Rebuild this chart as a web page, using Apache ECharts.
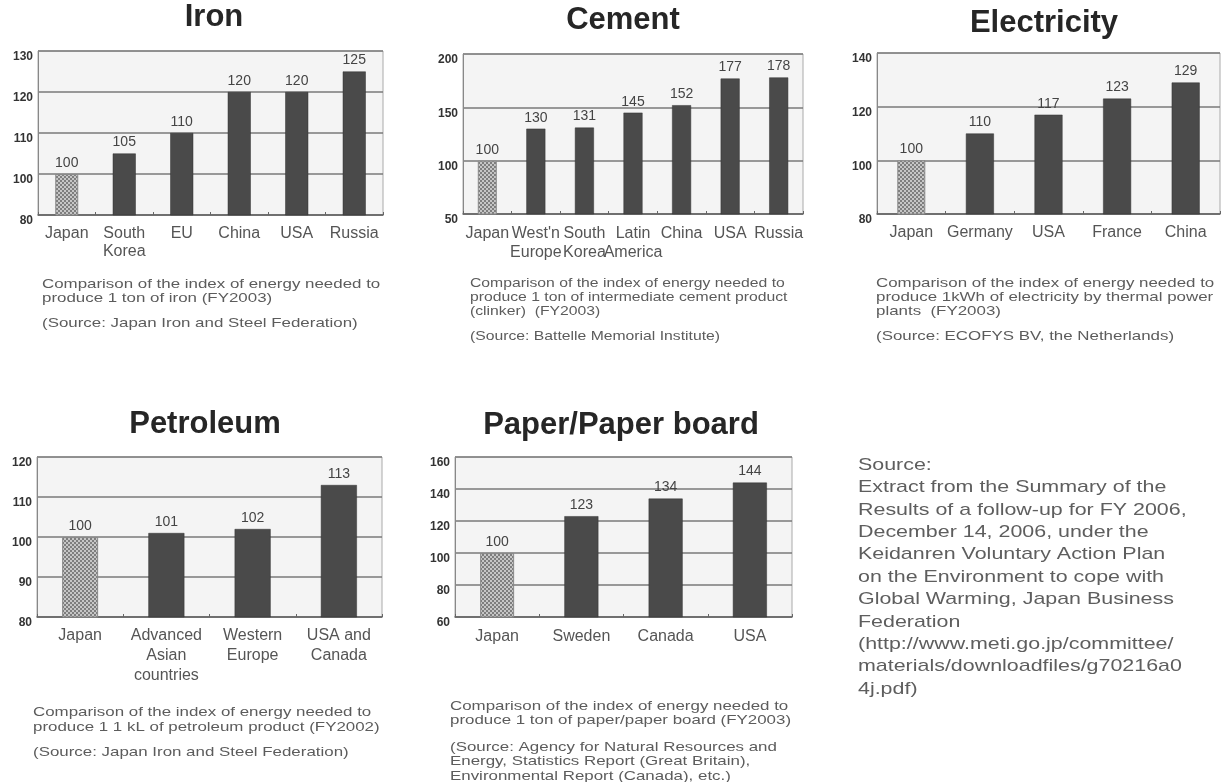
<!DOCTYPE html>
<html>
<head>
<meta charset="utf-8">
<script src="https://cdn.jsdelivr.net/npm/echarts@6.0.0/dist/echarts.min.js"></script>
<style>
html,body{margin:0;padding:0;background:#fff;}
#main{width:1226px;height:782px;}
</style>
</head>
<body>
<div id="main"></div>
<script>
// ---- data ----
const ironCats = ['Japan', 'South\nKorea', 'EU', 'China', 'USA', 'Russia'];
const ironVals = [100, 105, 110, 120, 120, 125];
const ironTicks = ['80', '100', '110', '120', '130'];   // broken axis: bottom tick labelled 80

const cementCats = ['Japan', "West'n\nEurope", 'South\nKorea', 'Latin\nAmerica', 'China', 'USA', 'Russia'];
const cementVals = [100, 130, 131, 145, 152, 177, 178];
const cementTicks = ['50', '100', '150', '200'];

const elecCats = ['Japan', 'Germany', 'USA', 'France', 'China'];
const elecVals = [100, 110, 117, 123, 129];
const elecTicks = ['80', '100', '120', '140'];

const petroCats = ['Japan', 'Advanced\nAsian\ncountries', 'Western\nEurope', 'USA and\nCanada'];
const petroVals = [100, 101, 102, 113];
const petroTicks = ['80', '90', '100', '110', '120'];

const paperCats = ['Japan', 'Sweden', 'Canada', 'USA'];
const paperVals = [100, 123, 134, 144];
const paperTicks = ['60', '80', '100', '120', '140', '160'];

const titles = ['Iron', 'Cement', 'Electricity', 'Petroleum', 'Paper/Paper board'];

// ---- styling / layout ----
const FONT = '"Liberation Sans", Arial, sans-serif';
const charts = [
  {cats: ironCats, vals: ironVals, ticks: ironTicks, yMin: 90, yStep: 10,
   grid: {left: 38, top: 51, width: 345, height: 164}, barWidth: 23, lh: 18, margin: 10},
  {cats: cementCats, vals: cementVals, ticks: cementTicks, yMin: 50, yStep: 50,
   grid: {left: 463, top: 54, width: 340, height: 160}, barWidth: 19, lh: 19, margin: 10},
  {cats: elecCats, vals: elecVals, ticks: elecTicks, yMin: 80, yStep: 20,
   grid: {left: 877, top: 53, width: 343, height: 161}, barWidth: 28, lh: 18, margin: 10},
  {cats: petroCats, vals: petroVals, ticks: petroTicks, yMin: 80, yStep: 10,
   grid: {left: 37, top: 457, width: 345, height: 160}, barWidth: 36, lh: 20, margin: 9},
  {cats: paperCats, vals: paperVals, ticks: paperTicks, yMin: 60, yStep: 20,
   grid: {left: 455, top: 457, width: 337, height: 160}, barWidth: 34, lh: 18, margin: 11}
];

// checkered pattern for Japan bars
const pc = document.createElement('canvas');
pc.width = 4; pc.height = 4;
const pctx = pc.getContext('2d');
pctx.fillStyle = '#c6c6c6'; pctx.fillRect(0, 0, 4, 4);
pctx.fillStyle = '#7e7e7e'; pctx.fillRect(0, 0, 2, 2); pctx.fillRect(2, 2, 2, 2);
const japanPattern = {image: pc, repeat: 'repeat'};

const grids = [], xAxes = [], yAxes = [], series = [];
charts.forEach((c, i) => {
  grids.push(Object.assign({show: true, backgroundColor: '#f4f4f4', borderColor: '#aaa', borderWidth: 1}, c.grid));
  xAxes.push({
    type: 'category', gridIndex: i, data: c.cats,
    axisLine: {show: true, lineStyle: {color: '#666', width: 1.5}},
    axisTick: {show: true, inside: true, length: 3, lineStyle: {color: '#666'}},
    axisLabel: {interval: 0, hideOverlap: false, fontFamily: FONT, fontSize: 16, color: '#555',
                lineHeight: c.lh, margin: c.margin}
  });
  const yMax = c.yMin + c.yStep * (c.ticks.length - 1);
  yAxes.push({
    type: 'value', gridIndex: i, min: c.yMin, max: yMax, interval: c.yStep,
    axisLine: {show: true, lineStyle: {color: '#888', width: 1}},
    axisTick: {show: false},
    splitLine: {show: true, lineStyle: {color: '#7a7a7a', width: 1.5}},
    axisLabel: {fontFamily: FONT, fontSize: 12, fontWeight: 'bold', color: '#333', margin: 5,
                verticalAlign: 'top',
                formatter: (v) => c.ticks[Math.round((v - c.yMin) / c.yStep)]}
  });
  series.push({
    type: 'bar', xAxisIndex: i, yAxisIndex: i, barWidth: c.barWidth,
    data: c.vals.map((v, k) => k === 0
      ? {value: v, itemStyle: {color: japanPattern, borderColor: '#8a8a8a', borderWidth: 1}}
      : {value: v}),
    itemStyle: {color: '#4a4a4a', borderColor: '#333', borderWidth: 0.5},
    label: {show: true, position: 'top', distance: 4, fontFamily: FONT, fontSize: 14, color: '#444'},
    animation: false
  });
});

// ---- texts ----
const titlePos = [[214, 17], [623, 20], [1044, 23], [205, 424], [621, 425]];
const graphics = [];
titles.forEach((t, i) => {
  graphics.push({type: 'text', x: titlePos[i][0], y: titlePos[i][1],
    style: {text: t, font: 'bold 31px ' + FONT, fill: '#262626', align: 'center', verticalAlign: 'middle'}});
});

function caption(x, y, text, sx, size, lh, color) {
  graphics.push({type: 'text', x: x, y: y, scaleX: sx,
    style: {text: text, font: size + 'px ' + FONT, fill: color, lineHeight: lh, align: 'left', verticalAlign: 'top'}});
}
const capFill = '#5c5c5c';
caption(42, 277, 'Comparison of the index of energy needed to\nproduce 1 ton of iron (FY2003)', 1.3, 13, 14.5, capFill);
caption(42, 316, '(Source: Japan Iron and Steel Federation)', 1.3, 13, 14.5, capFill);
caption(470, 276, 'Comparison of the index of energy needed to\nproduce 1 ton of intermediate cement product\n(clinker)  (FY2003)', 1.21, 13, 14, capFill);
caption(470, 329, '(Source: Battelle Memorial Institute)', 1.21, 13, 14, capFill);
caption(876, 276, 'Comparison of the index of energy needed to\nproduce 1kWh of electricity by thermal power\nplants  (FY2003)', 1.3, 13, 14, capFill);
caption(876, 329, '(Source: ECOFYS BV, the Netherlands)', 1.3, 13, 14, capFill);
caption(33, 705, 'Comparison of the index of energy needed to\nproduce 1 1 kL of petroleum product (FY2002)', 1.3, 13, 15, capFill);
caption(33, 745, '(Source: Japan Iron and Steel Federation)', 1.3, 13, 15, capFill);
caption(450, 699, 'Comparison of the index of energy needed to\nproduce 1 ton of paper/paper board (FY2003)', 1.3, 13, 14.5, capFill);
caption(450, 740, '(Source: Agency for Natural Resources and\nEnergy, Statistics Report (Great Britain),\nEnvironmental Report (Canada), etc.)', 1.3, 13, 14.5, capFill);
caption(858, 454, 'Source:\nExtract from the Summary of the\nResults of a follow-up for FY 2006,\nDecember 14, 2006, under the\nKeidanren Voluntary Action Plan\non the Environment to cope with\nGlobal Warming, Japan Business\nFederation\n(http://www.meti.go.jp/committee/\nmaterials/downloadfiles/g70216a0\n4j.pdf)', 1.26, 17, 22.4, '#5e5e5e');

const chart = echarts.init(document.getElementById('main'), null, {renderer: 'canvas'});
chart.setOption({
  animation: false,
  backgroundColor: '#ffffff',
  grid: grids, xAxis: xAxes, yAxis: yAxes, series: series,
  graphic: graphics
});
</script>
</body>
</html>
